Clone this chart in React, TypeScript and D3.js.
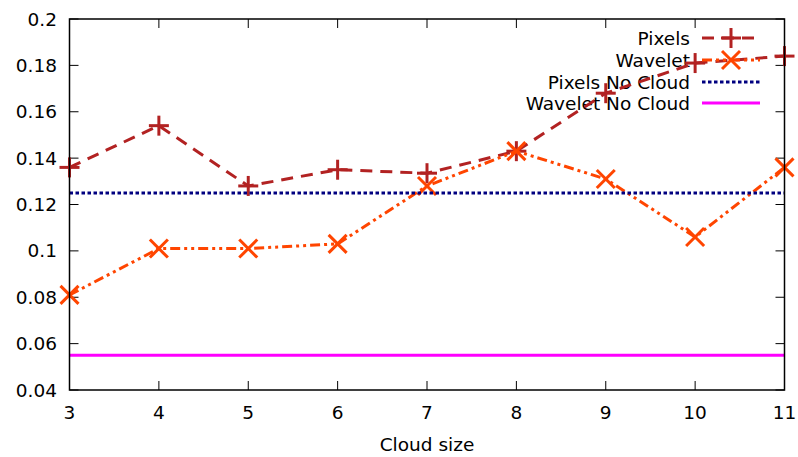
import React from "react";
import * as d3 from "d3";

const cloudSizes = [3, 4, 5, 6, 7, 8, 9, 10, 11];
const pixels = [0.136, 0.154, 0.128, 0.135, 0.1335, 0.143, 0.168, 0.181, 0.184];
const wavelet = [0.081, 0.101, 0.101, 0.103, 0.128, 0.143, 0.131, 0.106, 0.136];
const pixelsNoCloud = 0.125;
const waveletNoCloud = 0.055;
const yTicks = [0.04, 0.06, 0.08, 0.1, 0.12, 0.14, 0.16, 0.18, 0.2];
const xTicks = [3, 4, 5, 6, 7, 8, 9, 10, 11];
const legendLabels = ["Pixels", "Wavelet", "Pixels No Cloud", "Wavelet No Cloud"];

const W = 798, H = 457;
const L = 69.5, R = 784.5, T = 19, B = 390;
const FONT = "DejaVu Sans, sans-serif";
const FS = 18.5;

const C_PIX = "#b22222";
const C_WAV = "#ff4500";
const C_NAVY = "#000080";
const C_MAG = "#ff00ff";
const DASH_PIX = "12,8";
const DASH_WAV = "10,4,3,4,3,4";
const DASH_NAVY = "3.5,2.5";

function Plus({ x, y, c }: { x: number; y: number; c: string }) {
  const s = 10;
  return (
    <g stroke={c} strokeWidth={3}>
      <line x1={x - s} x2={x + s} y1={y} y2={y} />
      <line x1={x} x2={x} y1={y - s} y2={y + s} />
    </g>
  );
}
function Cross({ x, y, c }: { x: number; y: number; c: string }) {
  const s = 9;
  return (
    <g stroke={c} strokeWidth={3}>
      <line x1={x - s} x2={x + s} y1={y - s} y2={y + s} />
      <line x1={x - s} x2={x + s} y1={y + s} y2={y - s} />
    </g>
  );
}

export default function App() {
  const x = d3.scaleLinear().domain([3, 11]).range([L, R]);
  const y = d3.scaleLinear().domain([0.04, 0.2]).range([B, T]);
  const line = d3
    .line<number>()
    .x((_, i) => x(cloudSizes[i]))
    .y((d) => y(d));

  const legX = 690, sx1 = 702, sx2 = 760;
  const legY = [38, 60, 82, 103];

  return (
    <svg width={W} height={H} style={{ position: "absolute", left: 0, top: 0, background: "#fff" }}
      fontFamily={FONT} fontSize={FS}>
      <rect x={0} y={0} width={W} height={H} fill="#fff" />
      {/* ticks */}
      {yTicks.map((t) => (
        <g key={"y" + t}>
          <line x1={L} x2={L + 9} y1={y(t)} y2={y(t)} stroke="#000" strokeWidth={1} />
          <line x1={R} x2={R - 9} y1={y(t)} y2={y(t)} stroke="#000" strokeWidth={1} />
          <text x={57} y={y(t)} textAnchor="end" dominantBaseline="central" fill="#000">
            {String(t)}
          </text>
        </g>
      ))}
      {xTicks.map((t) => (
        <g key={"x" + t}>
          <line x1={x(t)} x2={x(t)} y1={B} y2={B - 9} stroke="#000" strokeWidth={1} />
          <line x1={x(t)} x2={x(t)} y1={T} y2={T + 9} stroke="#000" strokeWidth={1} />
          <text x={x(t)} y={412} textAnchor="middle" dominantBaseline="central" fill="#000">
            {t}
          </text>
        </g>
      ))}
      <text x={(L + R) / 2} y={444} textAnchor="middle" dominantBaseline="central" fill="#000">
        Cloud size
      </text>
      {/* legend text */}
      {legendLabels.map((l, i) => (
        <text key={l} x={legX} y={legY[i]} textAnchor="end" dominantBaseline="central" fill="#000">
          {l}
        </text>
      ))}
      {/* Pixels */}
      <path d={line(pixels) || ""} fill="none" stroke={C_PIX} strokeWidth={3} strokeDasharray={DASH_PIX} />
      {pixels.map((v, i) => (
        <Plus key={"p" + i} x={x(cloudSizes[i])} y={y(v)} c={C_PIX} />
      ))}
      <line x1={sx1} x2={sx2} y1={legY[0]} y2={legY[0]} stroke={C_PIX} strokeWidth={3} strokeDasharray={DASH_PIX} />
      <Plus x={(sx1 + sx2) / 2} y={legY[0]} c={C_PIX} />
      {/* Wavelet */}
      <path d={line(wavelet) || ""} fill="none" stroke={C_WAV} strokeWidth={3} strokeDasharray={DASH_WAV} />
      {wavelet.map((v, i) => (
        <Cross key={"w" + i} x={x(cloudSizes[i])} y={y(v)} c={C_WAV} />
      ))}
      <line x1={sx1} x2={sx2} y1={legY[1]} y2={legY[1]} stroke={C_WAV} strokeWidth={3} strokeDasharray={DASH_WAV} />
      <Cross x={(sx1 + sx2) / 2} y={legY[1]} c={C_WAV} />
      {/* No cloud lines */}
      <line x1={L} x2={R} y1={y(pixelsNoCloud)} y2={y(pixelsNoCloud)} stroke={C_NAVY} strokeWidth={3} strokeDasharray={DASH_NAVY} />
      <line x1={sx1} x2={sx2} y1={legY[2]} y2={legY[2]} stroke={C_NAVY} strokeWidth={3} strokeDasharray={DASH_NAVY} />
      <line x1={L} x2={R} y1={y(waveletNoCloud)} y2={y(waveletNoCloud)} stroke={C_MAG} strokeWidth={3} />
      <line x1={sx1} x2={sx2} y1={legY[3]} y2={legY[3]} stroke={C_MAG} strokeWidth={3} />
      {/* border */}
      <rect x={L} y={T} width={R - L} height={B - T} fill="none" stroke="#000" strokeWidth={1.5} />
    </svg>
  );
}
